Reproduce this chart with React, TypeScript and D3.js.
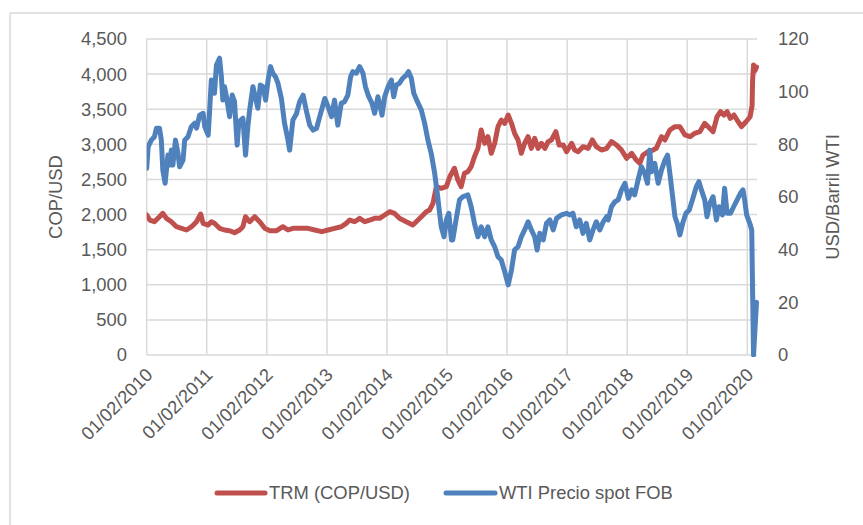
import React from "react";
import * as d3 from "d3";

const xTickLabels = [
  "01/02/2010", "01/02/2011", "01/02/2012", "01/02/2013", "01/02/2014", "01/02/2015",
  "01/02/2016", "01/02/2017", "01/02/2018", "01/02/2019", "01/02/2020",
];
const leftTicks = [0, 500, 1000, 1500, 2000, 2500, 3000, 3500, 4000, 4500];
const rightTicks = [0, 20, 40, 60, 80, 100, 120];

const trmDates = [
  "2010-02-01","2010-02-20","2010-03-20","2010-04-20","2010-05-10","2010-06-01","2010-07-01","2010-08-01","2010-09-01","2010-10-01",
  "2010-11-01","2010-12-01","2010-12-26","2011-01-10","2011-02-10","2011-03-01","2011-03-20","2011-04-20","2011-05-20","2011-06-20",
  "2011-07-20","2011-08-20","2011-09-09","2011-09-25","2011-10-20","2011-11-20","2011-12-20","2012-01-20","2012-02-20","2012-04-01",
  "2012-05-09","2012-06-09","2012-07-09","2012-08-09","2012-09-01","2012-10-09","2012-11-19","2013-01-01","2013-02-08","2013-03-19",
  "2013-04-29","2013-05-29","2013-06-19","2013-07-19","2013-08-19","2013-09-19","2013-10-19","2013-11-18","2013-12-18","2014-01-18",
  "2014-02-18","2014-03-18","2014-04-18","2014-05-29","2014-07-08","2014-07-29","2014-08-29","2014-09-28","2014-10-18","2014-11-08",
  "2014-11-28","2014-12-28","2015-01-28","2015-02-18","2015-03-18","2015-04-08","2015-04-28","2015-05-18","2015-06-08","2015-06-28",
  "2015-07-18","2015-08-08","2015-08-28","2015-09-18","2015-10-08","2015-10-28","2015-11-18","2015-12-08","2015-12-28","2016-01-18",
  "2016-02-08","2016-02-28","2016-03-18","2016-04-08","2016-04-28","2016-05-18","2016-06-08","2016-06-28","2016-07-18","2016-08-08",
  "2016-08-28","2016-09-18","2016-10-08","2016-10-28","2016-11-24","2016-12-14","2017-01-08","2017-01-28","2017-02-28","2017-03-18",
  "2017-04-08","2017-05-08","2017-06-08","2017-07-04","2017-07-28","2017-08-28","2017-09-28","2017-10-28","2017-11-28","2017-12-28",
  "2018-01-28","2018-02-28","2018-03-28","2018-04-18","2018-05-08","2018-06-08","2018-07-08","2018-07-28","2018-08-28","2018-09-18",
  "2018-10-18","2018-11-18","2018-12-18","2019-01-18","2019-02-18","2019-03-18","2019-04-18","2019-05-18","2019-06-08","2019-07-08",
  "2019-08-01","2019-08-22","2019-09-12","2019-10-01","2019-10-21","2019-11-12","2019-12-01","2019-12-28","2020-01-24","2020-02-18",
  "2020-03-01","2020-03-04","2020-03-10","2020-03-19","2020-03-28",
];
const trmValues = [
  1994,1922,1898,1969,2018,1946,1898,1827,1804,1780,
  1827,1898,2008,1875,1851,1898,1875,1804,1780,1770,
  1742,1780,1827,1969,1898,1969,1898,1804,1770,1770,
  1827,1780,1804,1804,1804,1804,1780,1756,1780,1804,
  1827,1875,1922,1898,1946,1898,1922,1946,1946,1994,
  2041,2018,1946,1898,1851,1898,1969,2041,2065,2160,
  2397,2374,2397,2539,2659,2492,2397,2588,2610,2681,
  2824,2943,3204,3015,3109,2872,3015,3251,3346,3299,
  3418,3299,3157,3062,2872,3015,3109,2943,3086,2943,
  3015,2943,3038,3062,3180,2990,2990,2895,3015,2919,
  2895,2966,2943,3062,2966,2919,2940,3038,2990,2919,
  2801,2872,2777,2730,2848,2895,2919,2943,3109,3062,
  3204,3251,3251,3133,3109,3157,3180,3299,3251,3180,
  3393,3465,3418,3465,3370,3418,3346,3251,3322,3393,
  3550,3900,4130,4050,4100,
];

const wtiDates = [
  "2010-02-01","2010-02-10","2010-03-01","2010-03-20","2010-04-01","2010-04-20","2010-05-01","2010-05-10","2010-05-24","2010-06-10",
  "2010-06-20","2010-07-01","2010-07-10","2010-07-26","2010-08-10","2010-08-20","2010-09-10","2010-09-20","2010-10-10","2010-10-30",
  "2010-11-20","2010-12-01","2010-12-20","2011-01-10","2011-01-20","2011-02-10","2011-02-20","2011-03-01","2011-03-20","2011-04-01",
  "2011-04-20","2011-05-01","2011-05-10","2011-05-20","2011-06-03","2011-06-20","2011-07-06","2011-07-20","2011-08-05","2011-08-14",
  "2011-08-26","2011-09-09","2011-09-25","2011-10-09","2011-10-20","2011-11-09","2011-11-25","2011-12-09","2011-12-24","2012-01-09",
  "2012-01-25","2012-02-09","2012-02-24","2012-03-09","2012-03-25","2012-04-09","2012-04-30","2012-05-19","2012-06-09","2012-06-19",
  "2012-07-09","2012-07-30","2012-08-19","2012-09-09","2012-09-30","2012-10-19","2012-11-09","2012-11-30","2012-12-19","2013-01-19",
  "2013-02-08","2013-03-01","2013-03-19","2013-04-08","2013-04-29","2013-05-19","2013-06-08","2013-06-25","2013-07-08","2013-07-29",
  "2013-08-19","2013-09-08","2013-09-23","2013-10-13","2013-11-02","2013-11-18","2013-12-08","2014-01-02","2014-01-18","2014-02-08",
  "2014-02-28","2014-03-14","2014-03-29","2014-04-18","2014-05-08","2014-05-29","2014-06-12","2014-06-29","2014-07-14","2014-08-05",
  "2014-08-29","2014-09-18","2014-10-08","2014-10-28","2014-11-18","2014-12-04","2014-12-18","2014-12-28","2015-01-14","2015-01-28",
  "2015-02-12","2015-02-28","2015-03-08","2015-03-28","2015-04-18","2015-05-08","2015-06-08","2015-06-28","2015-07-18","2015-08-08",
  "2015-08-28","2015-09-18","2015-10-08","2015-10-28","2015-11-18","2015-12-08","2015-12-28","2016-01-18","2016-02-08","2016-02-28",
  "2016-03-18","2016-04-08","2016-04-28","2016-05-18","2016-06-08","2016-06-28","2016-07-18","2016-08-02","2016-08-18","2016-09-08",
  "2016-09-28","2016-10-18","2016-11-08","2016-11-28","2016-12-28","2017-01-28","2017-02-18","2017-03-08","2017-03-28","2017-04-18",
  "2017-05-08","2017-05-28","2017-06-18","2017-07-08","2017-07-28","2017-08-18","2017-09-08","2017-09-28","2017-10-08","2017-10-28",
  "2017-11-18","2017-12-08","2017-12-28","2018-01-18","2018-02-08","2018-02-28","2018-03-18","2018-04-08","2018-04-28","2018-05-18",
  "2018-06-04","2018-06-18","2018-06-28","2018-07-18","2018-08-08","2018-08-28","2018-09-18","2018-10-04","2018-10-18","2018-11-04",
  "2018-11-18","2018-12-02","2018-12-18","2019-01-04","2019-01-24","2019-02-13","2019-03-04","2019-03-28","2019-04-13","2019-04-28",
  "2019-05-18","2019-06-01","2019-06-18","2019-07-08","2019-07-28","2019-08-13","2019-09-03","2019-09-16","2019-10-01","2019-10-21",
  "2019-11-10","2019-12-01","2019-12-21","2020-01-06","2020-01-16","2020-01-28","2020-02-16","2020-02-28","2020-03-04","2020-03-10",
  "2020-03-19","2020-03-28",
];
const wtiValues = [
  70.9,79.1,81.6,82.9,86.1,86.1,81.6,70.2,65.2,75.9,
  72.1,77.8,72.1,81.6,76.6,71.5,74.0,81.6,82.9,86.7,
  88.0,86.1,91.1,91.8,86.7,83.5,94.3,104.4,99.4,110.1,
  112.7,105.7,96.8,101.9,97.4,90.5,98.7,96.2,79.7,87.3,
  89.2,89.9,75.9,86.7,93.0,101.9,97.4,93.7,102.5,101.9,
  96.8,104.4,109.5,107.0,105.7,103.2,97.4,88.0,81.6,77.8,
  89.2,91.5,96.2,98.7,92.4,87.3,85.4,86.1,90.5,97.4,
  94.3,90.5,96.8,87.3,95.6,96.2,98.7,105.7,107.6,107.0,
  109.5,107.0,101.9,98.1,95.6,91.8,98.1,91.1,98.1,101.9,
  104.4,98.1,102.5,103.2,105.1,106.3,107.6,105.1,99.4,96.2,
  93.0,88.0,81.6,76.6,69.0,61.4,53.8,48.7,44.9,51.3,
  53.8,43.7,43.7,51.3,58.9,60.1,60.8,56.3,50.0,44.9,
  48.7,44.9,48.7,43.7,41.1,37.3,36.1,31.6,26.6,32.3,
  39.9,41.1,44.9,47.5,50.6,47.5,44.9,39.9,46.2,43.7,
  50.0,51.3,47.5,51.9,53.2,53.8,53.2,53.8,48.7,51.3,
  46.2,50.0,43.7,47.5,50.6,47.5,50.6,52.5,51.3,56.3,
  58.2,58.9,62.7,65.2,59.5,62.7,60.8,66.5,71.5,69.0,
  65.2,77.8,69.6,72.8,65.2,70.2,74.0,75.9,69.0,60.1,
  52.5,50.0,45.6,50.0,53.8,55.1,58.9,63.9,65.8,62.7,
  58.9,52.5,57.6,60.1,51.3,56.3,53.2,63.3,53.8,53.8,
  56.3,58.9,61.4,62.7,58.9,53.2,50.0,47.5,25.0,0,
  10.0,20.0,
];

const W = 863;
const H = 525;
const M = { left: 146.7, right: 757, top: 39, bottom: 355 };
const FONT = "'Liberation Sans', Arial, sans-serif";
const TXT = "#595959";
const GRID = "#d9d9d9";
const RED = "#C0504D";
const BLUE = "#4F81BD";

const parseIso = d3.timeParse("%Y-%m-%d");
const parseTick = d3.timeParse("%d/%m/%Y");

export default function App() {
  const trm = trmDates.map((d, i) => ({ date: parseIso(d) as Date, v: trmValues[i] }));
  const wti = wtiDates.map((d, i) => ({ date: parseIso(d) as Date, v: wtiValues[i] }));
  const tickDates = xTickLabels.map((t) => parseTick(t) as Date);

  const x = d3
    .scaleTime()
    .domain([tickDates[0], tickDates[tickDates.length - 1]])
    .range([M.left, 747.3]);
  const yL = d3.scaleLinear().domain([0, 4500]).range([M.bottom, M.top]);
  const yR = d3.scaleLinear().domain([0, 120]).range([M.bottom, M.top]);

  const lineTrm = d3
    .line<{ date: Date; v: number }>()
    .x((d) => x(d.date))
    .y((d) => yL(d.v));
  const lineWti = d3
    .line<{ date: Date; v: number }>()
    .x((d) => x(d.date))
    .y((d) => yR(d.v));

  const midY = (M.top + M.bottom) / 2;

  return (
    <svg
      width={W}
      height={H}
      style={{ position: "absolute", left: 0, top: 0, background: "#fff" }}
      fontFamily={FONT}
    >
      <rect x={0} y={0} width={W} height={H} fill="#fff" />
      <line x1={10} y1={13} x2={W} y2={13} stroke={GRID} strokeWidth={1.5} />
      <line x1={10} y1={13} x2={10} y2={H} stroke={GRID} strokeWidth={1.5} />

      {leftTicks.map((t) => (
        <line key={"h" + t} x1={M.left} x2={M.right} y1={yL(t)} y2={yL(t)} stroke={GRID} strokeWidth={1.5} />
      ))}
      {tickDates.map((d, i) => (
        <line key={"v" + i} x1={x(d)} x2={x(d)} y1={M.top} y2={M.bottom} stroke={GRID} strokeWidth={1.5} />
      ))}

      <defs>
        <clipPath id="plotclip">
          <rect x={M.left} y={M.top - 10} width={M.right - M.left + 3} height={M.bottom - M.top + 12} />
        </clipPath>
      </defs>
      <g clipPath="url(#plotclip)">
        <path d={lineTrm(trm) || ""} fill="none" stroke={RED} strokeWidth={5} strokeLinejoin="round" strokeLinecap="round" />
        <path d={lineWti(wti) || ""} fill="none" stroke={BLUE} strokeWidth={5} strokeLinejoin="round" strokeLinecap="round" />
      </g>

      {leftTicks.map((t) => (
        <text key={"l" + t} x={127} y={yL(t)} dy="0.35em" textAnchor="end" fontSize={18.4} fill={TXT}>
          {d3.format(",")(t)}
        </text>
      ))}
      {rightTicks.map((t) => (
        <text key={"r" + t} x={778} y={yR(t)} dy="0.35em" textAnchor="start" fontSize={18.4} fill={TXT}>
          {t}
        </text>
      ))}
      {tickDates.map((d, i) => (
        <text
          key={"x" + i}
          transform={`translate(${x(d) - 2},${M.bottom + 12}) rotate(-45)`}
          textAnchor="end"
          dy="0.7em"
          fontSize={18.4}
          fill={TXT}
        >
          {xTickLabels[i]}
        </text>
      ))}

      <text transform={`translate(56,${midY}) rotate(-90)`} textAnchor="middle" dy="0.35em" fontSize={18.4} fill={TXT}>
        COP/USD
      </text>
      <text transform={`translate(833,${midY}) rotate(-90)`} textAnchor="middle" dy="0.35em" fontSize={18.4} fill={TXT}>
        USD/Barril WTI
      </text>

      <line x1={217} x2={265} y1={493} y2={493} stroke={RED} strokeWidth={5} strokeLinecap="round" />
      <text x={269} y={493} dy="0.35em" fontSize={18.4} fill={TXT}>TRM (COP/USD)</text>
      <line x1={446} x2={495} y1={493} y2={493} stroke={BLUE} strokeWidth={5} strokeLinecap="round" />
      <text x={499} y={493} dy="0.35em" fontSize={18.4} fill={TXT}>WTI Precio spot FOB</text>
    </svg>
  );
}
